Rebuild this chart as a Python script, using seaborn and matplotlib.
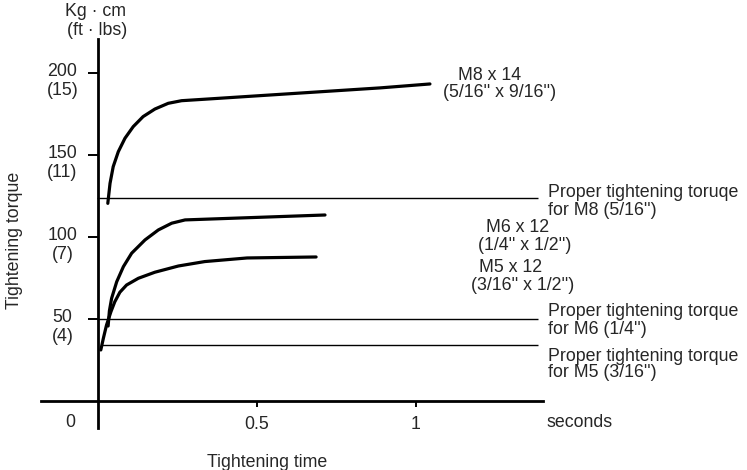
import pandas as pd
import seaborn as sns
import matplotlib.pyplot as plt

sns.set_theme(style="white")
plt.rcParams['font.family'] = ['Liberation Sans', 'DejaVu Sans']

# Tightening curves (time in s, torque in kg.cm)
m8_time = [0.031, 0.038, 0.048, 0.064, 0.085, 0.111, 0.142, 0.179, 0.221, 0.263, 0.336, 0.887, 1.044]
m8_torque = [120.5, 132.7, 142.9, 152.0, 160.2, 167.3, 173.4, 178.0, 181.5, 183.1, 184.0, 190.9, 193.3]
m6_time = [0.032, 0.036, 0.043, 0.059, 0.080, 0.106, 0.148, 0.190, 0.232, 0.274, 0.714]
m6_torque = [45.7, 54.9, 62.6, 72.7, 81.9, 90.1, 98.2, 104.3, 108.4, 110.4, 113.4]
m5_time = [0.009, 0.017, 0.027, 0.041, 0.053, 0.069, 0.090, 0.127, 0.179, 0.253, 0.336, 0.469, 0.686]
m5_torque = [31.1, 38.2, 46.3, 54.5, 60.5, 66.3, 70.7, 74.8, 78.5, 82.3, 85.0, 87.2, 87.8]

# proper tightening torque levels
proper_torque = [124, 50, 34]
proper_start = [-0.003, -0.003, 0.013]

y_ticks = [200, 150, 100, 50]
y_kg = ["200", "150", "100", "50"]
y_ftlb = ["(15)", "(11)", "(7)", "(4)"]
x_ticks = [0.5, 1]
x_labels = ["0.5", "1"]

curves = pd.concat([
    pd.DataFrame({"time": m8_time, "torque": m8_torque, "bolt": "M8"}),
    pd.DataFrame({"time": m6_time, "torque": m6_torque, "bolt": "M6"}),
    pd.DataFrame({"time": m5_time, "torque": m5_torque, "bolt": "M5"}),
])

fig = plt.figure(figsize=(7.47, 4.70), dpi=100)
ax = fig.add_axes([0, 0, 1, 1])
ax.set_xlim(-0.308, 2.041)
ax.set_ylim(-42.1, 244.5)

sns.lineplot(data=curves, x="time", y="torque", units="bolt", estimator=None,
             sort=False, color="black", lw=2.3, ax=ax, legend=False)

for lvl, x0 in zip(proper_torque, proper_start):
    ax.hlines(lvl, x0, 1.384, color="black", lw=1.0)

# axes as crossing lines
for s in ["top", "right"]:
    ax.spines[s].set_visible(False)
ax.spines["left"].set_position(("data", 0))
ax.spines["bottom"].set_position(("data", 0))
ax.spines["left"].set_bounds(-16.5, 221)
ax.spines["bottom"].set_bounds(-0.18, 1.40)
for s in ["left", "bottom"]:
    ax.spines[s].set_color("black")
    ax.spines[s].set_linewidth(2.0)

fs = 12.8
ax.set_yticks(y_ticks, labels=[""] * len(y_ticks))
ax.set_xticks(x_ticks, labels=x_labels)
ax.tick_params(axis="y", direction="out", length=7, width=1.4, color="black", left=True)
ax.tick_params(axis="x", direction="out", length=4.5, width=1.4, color="black", bottom=True,
               pad=6.5, labelsize=fs)
ax.set_xlabel("")
ax.set_ylabel("")

for v, a, b in zip(y_ticks, y_kg, y_ftlb):
    ax.text(-0.112, v + 0.6, a, ha="center", va="center", fontsize=fs)
    ax.text(-0.112, v - 10.4, b, ha="center", va="center", fontsize=fs)

ax.text(-0.009, 237.2, "Kg · cm", ha="center", va="center", fontsize=fs)
ax.text(-0.003, 226.2, "(ft · lbs)", ha="center", va="center", fontsize=fs)
ax.text(-0.088, -13.2, "0", ha="center", va="center", fontsize=fs)
ax.text(1.412, -13.2, "seconds", ha="left", va="center", fontsize=fs)
ax.text(0.531, -37.8, "Tightening time", ha="center", va="center", fontsize=fs)
ax.text(-0.261, 98, "Tightening torque", ha="center", va="center", rotation=90, fontsize=fs)

ax.text(1.233, 198.2, "M8 x 14", ha="center", va="center", fontsize=fs)
ax.text(1.264, 187.8, "(5/16'' x 9/16'')", ha="center", va="center", fontsize=fs)
ax.text(1.318, 105.5, "M6 x 12", ha="center", va="center", fontsize=fs)
ax.text(1.343, 95.1, "(1/4'' x 1/2'')", ha="center", va="center", fontsize=fs)
ax.text(1.296, 81.1, "M5 x 12", ha="center", va="center", fontsize=fs)
ax.text(1.336, 70.7, "(3/16'' x 1/2'')", ha="center", va="center", fontsize=fs)

ax.text(1.415, 127.4, "Proper tightening toruqe", ha="left", va="center", fontsize=fs)
ax.text(1.415, 115.9, "for M8 (5/16'')", ha="left", va="center", fontsize=fs)
ax.text(1.415, 54.3, "Proper tightening torque", ha="left", va="center", fontsize=fs)
ax.text(1.415, 43.3, "for M6 (1/4'')", ha="left", va="center", fontsize=fs)
ax.text(1.415, 27.4, "Proper tightening torque", ha="left", va="center", fontsize=fs)
ax.text(1.415, 17.1, "for M5 (3/16'')", ha="left", va="center", fontsize=fs)

fig.savefig("out.png", dpi=100)
